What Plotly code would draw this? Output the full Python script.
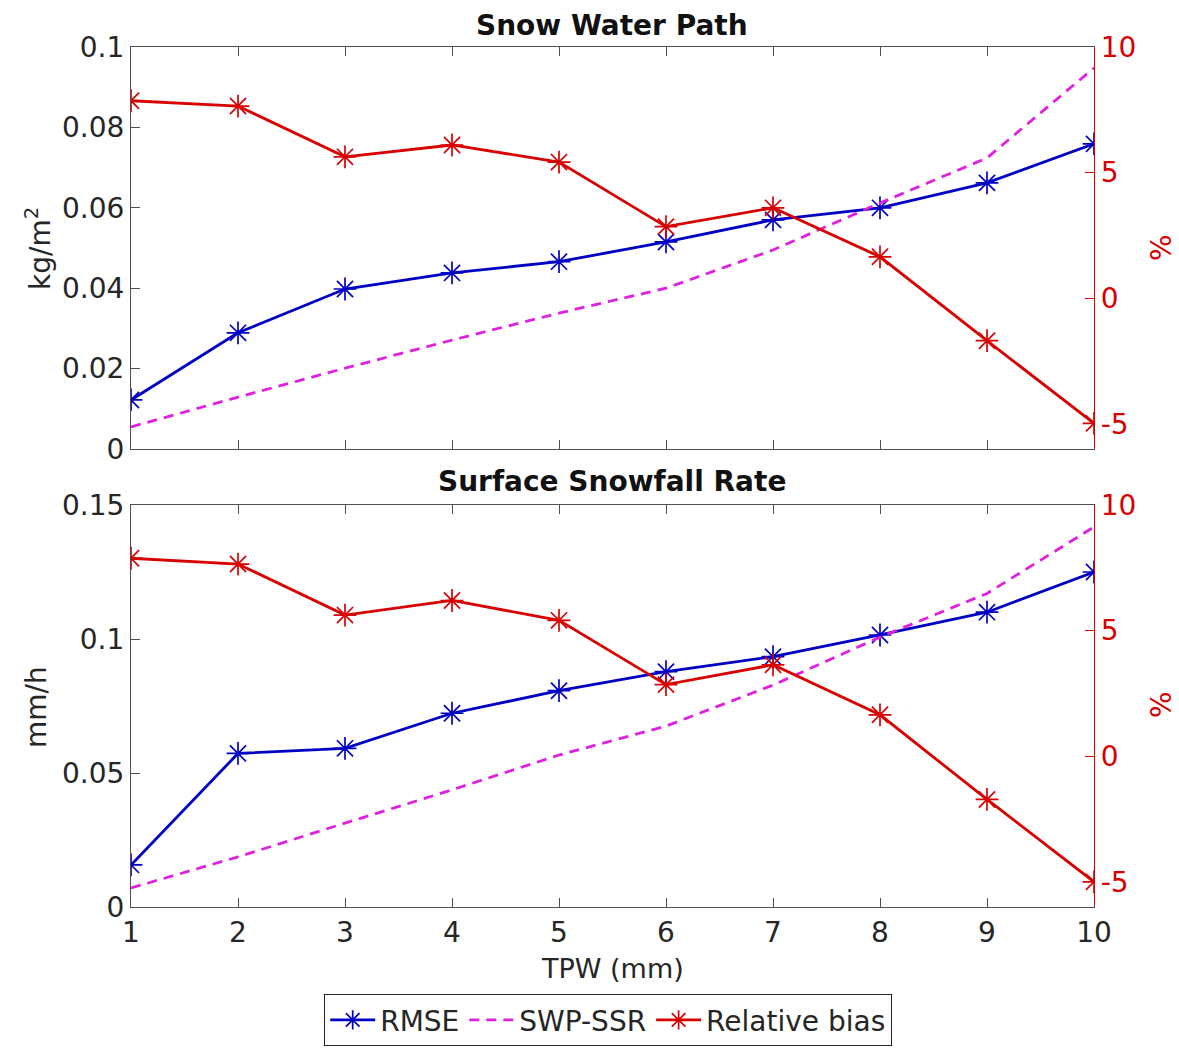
import plotly.graph_objects as go

tpw = [1, 2, 3, 4, 5, 6, 7, 8, 9, 10]
x_ticks = [1, 2, 3, 4, 5, 6, 7, 8, 9, 10]

# Snow Water Path panel
swp_rmse = [0.0122, 0.0289, 0.0398, 0.0438, 0.0466, 0.0515, 0.0570, 0.0600, 0.0662, 0.0759]
swp_ssr = [0.0055, 0.0129, 0.0201, 0.0271, 0.0338, 0.0400, 0.0495, 0.0612, 0.0724, 0.0948]
swp_bias = [7.86, 7.65, 5.63, 6.10, 5.42, 2.85, 3.60, 1.65, -1.69, -4.98]

# Surface Snowfall Rate panel
ssr_rmse = [0.0157, 0.0573, 0.0592, 0.0723, 0.0807, 0.0878, 0.0934, 0.1015, 0.1100, 0.1250]
ssr_ssr = [0.0071, 0.0187, 0.0313, 0.0437, 0.0567, 0.0675, 0.0828, 0.1007, 0.1170, 0.1418]
ssr_bias = [7.88, 7.65, 5.62, 6.20, 5.41, 2.85, 3.64, 1.65, -1.72, -5.00]

left_ticks_top = [0, 0.02, 0.04, 0.06, 0.08, 0.1]
left_ticks_bot = [0, 0.05, 0.1, 0.15]
right_ticks = [-5, 0, 5, 10]
right_labels = ["-5", "0", "5", "10"]

BLUE = "#0000c4"
MAG = "#e020e0"
RED = "#d80000"
AX = "#505050"
FONT = "DejaVu Sans"
FS = 28

W, H = 1179, 1063
xd = [131 / W, 1094 / W]
top_dom = [1 - 449 / H, 1 - 47 / H]
bot_dom = [1 - 907 / H, 1 - 505 / H]

fig = go.Figure()

def add_panel(xa, ya, ya2, rmse, ssr, bias, show):
    fig.add_trace(go.Scatter(x=tpw, y=rmse, xaxis=xa, yaxis=ya, name="RMSE", mode="lines+markers",
                             line=dict(color=BLUE, width=2.8),
                             marker=dict(symbol="asterisk-open", size=19, line=dict(color=BLUE, width=1.7)),
                             showlegend=show, legendrank=1))
    fig.add_trace(go.Scatter(x=tpw, y=ssr, xaxis=xa, yaxis=ya, name="SWP-SSR", mode="lines",
                             line=dict(color=MAG, width=2.8, dash="10px,7px"),
                             showlegend=show, legendrank=2))
    fig.add_trace(go.Scatter(x=tpw, y=bias, xaxis=xa, yaxis=ya2, name="Relative bias", mode="lines+markers",
                             line=dict(color=RED, width=2.8),
                             marker=dict(symbol="asterisk-open", size=19, line=dict(color=RED, width=1.7)),
                             showlegend=show, legendrank=3))

add_panel("x", "y", "y2", swp_rmse, swp_ssr, swp_bias, True)
add_panel("x2", "y3", "y4", ssr_rmse, ssr_ssr, ssr_bias, False)

tickfont = dict(family=FONT, size=FS, color="#262626")
redfont = dict(family=FONT, size=FS, color=RED)

def xaxis(dom_anchor, labels):
    return dict(domain=xd, anchor=dom_anchor, range=[1, 10], tickvals=x_ticks,
                showticklabels=labels, ticks="inside", ticklen=9, tickcolor=AX,
                showline=True, linecolor=AX, linewidth=1.2, mirror="ticks",
                showgrid=False, zeroline=False, tickfont=tickfont, automargin=False)

def yleft(dom, anchor, rng, tv):
    return dict(domain=dom, anchor=anchor, range=rng, tickvals=tv,
                ticktext=[("%g" % v) for v in tv],
                ticks="inside", ticklen=9, tickcolor=AX, showline=True, linecolor=AX,
                linewidth=1.2, showgrid=False, zeroline=False, tickfont=tickfont, automargin=False)

def yright(overlay, anchor):
    return dict(overlaying=overlay, anchor=anchor, side="right", range=[-6, 10], tickvals=right_ticks,
                ticktext=right_labels,
                ticks="inside", ticklen=9, tickcolor=RED, showline=True, linecolor=RED,
                linewidth=1.2, showgrid=False, zeroline=False, tickfont=redfont, automargin=False)

fig.update_layout(
    width=W, height=H, autosize=False,
    margin=dict(l=0, r=0, t=0, b=0, pad=0, autoexpand=False),
    paper_bgcolor="white", plot_bgcolor="white",
    font=dict(family=FONT, color="#262626"),
    xaxis=xaxis("y", False),
    yaxis=yleft(top_dom, "x", [0, 0.1], left_ticks_top),
    yaxis2=yright("y", "x"),
    xaxis2=xaxis("y3", True),
    yaxis3=yleft(bot_dom, "x2", [0, 0.15], left_ticks_bot),
    yaxis4=yright("y3", "x2"),
    legend=dict(orientation="h", x=608 / W, xanchor="center", y=1 - 1020 / H, yanchor="middle",
                bordercolor="#262626", borderwidth=1.2, bgcolor="white",
                font=dict(family=FONT, size=FS, color="#262626"), itemwidth=45,
                tracegroupgap=0),
    showlegend=True,
)

ann = [
    dict(text="<b>Snow Water Path</b>", x=612 / W, y=1 - 25 / H, size=FS, angle=0, color="#111111"),
    dict(text="<b>Surface Snowfall Rate</b>", x=612 / W, y=1 - 482 / H, size=FS, angle=0, color="#111111"),
    dict(text="kg/m<sup>2</sup>", x=38 / W, y=1 - 248 / H, size=FS, angle=-90, color="#262626"),
    dict(text="mm/h", x=36 / W, y=1 - 707 / H, size=FS, angle=-90, color="#262626"),
    dict(text="%", x=1161 / W, y=1 - 248 / H, size=FS, angle=-90, color=RED),
    dict(text="%", x=1161 / W, y=1 - 705 / H, size=FS, angle=-90, color=RED),
    dict(text="TPW (mm)", x=612 / W, y=1 - 968 / H, size=FS - 1, angle=0, color="#262626"),
]
for a in ann:
    fig.add_annotation(text=a["text"], x=a["x"], y=a["y"], xref="paper", yref="paper",
                       xanchor="center", yanchor="middle", showarrow=False, textangle=a["angle"],
                       font=dict(family=FONT, size=a["size"], color=a["color"]))

fig.write_html("out.html")
